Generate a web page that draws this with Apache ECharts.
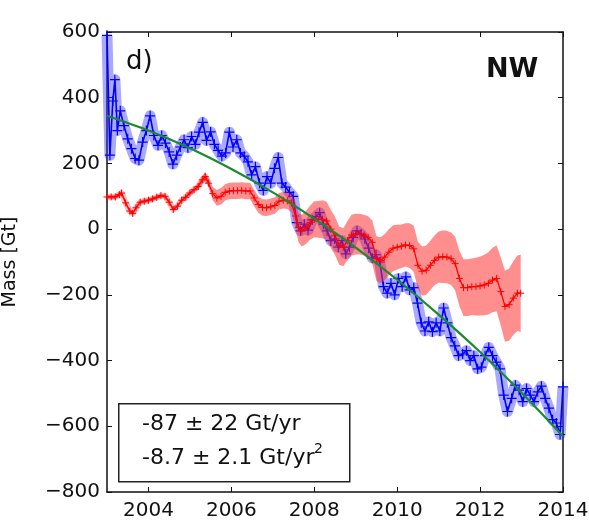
<!DOCTYPE html>
<html>
<head>
<meta charset="utf-8">
<script src="https://cdn.jsdelivr.net/npm/echarts@6/dist/echarts.min.js"></script>
<style>html,body{margin:0;padding:0;background:#fff}#c{width:589px;height:526px}</style>
</head>
<body>
<div id="c"></div>
<script>
const xTicks = [2004, 2006, 2008, 2010, 2012, 2014];
const yTicks = [-800, -600, -400, -200, 0, 200, 400, 600];
const panelLabel = 'd)';
const regionLabel = 'NW';
const fitLine1 = '-87 \u00b1 22 Gt/yr';
const fitLine2 = '-8.7 \u00b1 2.1 Gt/yr';
const fitSup = '2';
const yName = 'Mass [Gt]';

const blueYears = [2003.00,2003.07,2003.14,2003.19,2003.25,2003.32,2003.41,2003.50,2003.59,2003.68,2003.77,2003.86,2003.95,
2004.04,2004.13,2004.23,2004.32,2004.41,2004.50,2004.59,2004.68,2004.77,2004.86,2004.95,
2005.04,2005.13,2005.22,2005.31,2005.40,2005.50,2005.59,2005.68,2005.77,2005.86,2005.95,
2006.04,2006.13,2006.22,2006.31,2006.40,2006.49,2006.58,2006.68,2006.77,2006.86,2006.95,
2007.04,2007.13,2007.22,2007.31,2007.40,2007.49,2007.58,2007.67,2007.76,2007.85,2007.95,
2008.04,2008.13,2008.22,2008.31,2008.40,2008.49,2008.58,2008.67,2008.76,2008.85,2008.94,
2009.03,2009.13,2009.22,2009.31,2009.40,2009.49,2009.58,2009.67,2009.76,2009.85,2009.94,
2010.03,2010.12,2010.21,2010.30,2010.40,2010.49,2010.58,2010.67,2010.76,2010.85,2010.94,
2011.03,2011.12,2011.21,2011.30,2011.39,2011.48,2011.58,2011.67,2011.76,2011.85,2011.94,
2012.03,2012.12,2012.21,2012.30,2012.39,2012.48,2012.57,2012.66,2012.76,2012.85,2012.94,
2013.03,2013.12,2013.21,2013.30,2013.39,2013.48,2013.57,2013.66,2013.75,2013.84,2013.93,2014.00];
const blueMass = [590,225,390,455,300,360,315,275,245,215,210,265,300,
345,285,255,285,262,235,198,225,250,272,248,
282,258,295,325,270,296,258,240,222,232,295,
250,272,232,222,205,165,190,140,118,160,140,
185,218,140,128,112,100,20,-5,15,-3,28,
38,50,15,-5,-35,-30,-55,-35,-75,-55,-25,
-5,-15,-30,-58,-88,-78,-100,-175,-195,-165,-200,
-150,-175,-145,-185,-178,-225,-285,-310,-282,-312,-285,
-310,-240,-285,-330,-355,-385,-380,-370,-400,-385,-425,
-420,-385,-360,-385,-405,-425,-505,-555,-515,-475,-490,
-525,-485,-505,-525,-495,-478,-515,-545,-580,-590,-625,-480];

const redYears = [2003.0,2003.1,2003.2,2003.3,2003.35,2003.45,2003.55,2003.62,2003.7,2003.8,2003.9,
2004.0,2004.1,2004.2,2004.3,2004.4,2004.5,2004.6,2004.7,2004.8,2004.9,
2005.0,2005.1,2005.2,2005.3,2005.37,2005.45,2005.55,2005.65,2005.75,2005.85,2005.95,
2006.05,2006.15,2006.25,2006.35,2006.45,2006.55,2006.65,2006.75,2006.85,2006.95,
2007.05,2007.15,2007.25,2007.35,2007.45,2007.55,2007.62,2007.7,2007.8,2007.9,
2008.0,2008.1,2008.2,2008.3,2008.4,2008.5,2008.6,2008.7,2008.8,2008.9,
2009.0,2009.1,2009.2,2009.3,2009.4,2009.5,2009.6,2009.7,2009.8,2009.9,
2010.0,2010.1,2010.2,2010.3,2010.4,2010.5,2010.6,2010.7,2010.8,2010.9,
2011.0,2011.1,2011.2,2011.3,2011.4,2011.5,2011.6,2011.7,2011.8,2011.9,
2012.0,2012.1,2012.2,2012.3,2012.4,2012.5,2012.6,2012.7,2012.8,2012.9,2012.98];
const redMass = [98,98,98,105,110,80,55,48,65,82,85,
88,92,97,102,100,82,60,70,88,97,
110,120,130,150,160,140,108,95,100,112,116,
117,117,118,116,116,95,75,66,65,68,
72,85,88,86,80,40,5,-5,5,20,
30,30,30,25,0,-20,-50,-55,-35,-18,
-15,-15,-18,-25,-40,-90,-95,-85,-70,-58,
-55,-52,-48,-50,-60,-110,-128,-125,-110,-95,
-85,-84,-85,-90,-105,-150,-178,-178,-175,-175,
-173,-170,-165,-155,-150,-190,-235,-230,-210,-195,-195];
const redErr = [6,6,6,6,6,6,6,6,6,6,6,
6,6,6,6,6,6,6,6,6,6,
6,6,10,12,14,14,20,24,25,25,25,
25,25,25,25,25,25,25,25,25,25,
25,25,25,25,28,40,45,48,50,52,
55,56,58,58,58,58,58,58,60,62,
62,62,62,64,66,68,70,70,70,70,
68,66,66,68,70,72,75,75,75,76,
78,80,80,80,82,84,86,86,86,88,
90,92,95,98,100,104,108,110,112,115,118];
const RED_HALO_END = 27;

const greenYears = [2003,2004,2005,2006,2007,2008,2009,2010,2011,2012,2013,2014];
const greenMass = [345,300,246,183,112,32,-56,-154,-260,-374,-498,-630];

const pairs = (xs, ys) => xs.map((x, i) => [x, ys[i]]);

function bandSeries(xs, ys, e, fill, z) {
  return {
    type: 'custom', silent: true, z: z, clip: true,
    xAxisIndex: 0, yAxisIndex: 0,
    encode: { x: 0, y: 1 },
    data: [[2008.5, -100]],
    renderItem: function (params, api) {
      const pts = [];
      for (let i = 0; i < xs.length; i++) pts.push(api.coord([xs[i], ys[i] + e[i]]));
      for (let i = xs.length - 1; i >= 0; i--) pts.push(api.coord([xs[i], ys[i] - e[i]]));
      return { type: 'polygon', shape: { points: pts }, style: { fill: fill } };
    }
  };
}

const plus = 'path://M0,5L10,5M5,0L5,10';
const font = 'DejaVu Sans';
const fmtMinus = v => String(v).replace('-', '\u2212');

const chart = echarts.init(document.getElementById('c'), null, { renderer: 'canvas' });
chart.setOption({
  animation: false,
  backgroundColor: '#ffffff',
  grid: { left: 107, right: 26, top: 32, bottom: 34, containLabel: false, outerBoundsMode: 'none' },
  xAxis: [
    { type: 'value', position: 'bottom', min: 2003, max: 2014,
      axisLine: { show: true, onZero: false, lineStyle: { color: '#111', width: 1.5 } },
      axisTick: { show: true, inside: true, length: 5, customValues: xTicks, lineStyle: { color: '#111' } },
      axisLabel: { customValues: xTicks, formatter: v => String(v), fontFamily: font, fontSize: 20, color: '#111', margin: 9 },
      splitLine: { show: false } },
    { type: 'value', position: 'top', min: 2003, max: 2014,
      axisLine: { show: true, onZero: false, lineStyle: { color: '#111', width: 1.5 } },
      axisTick: { show: true, inside: true, length: 5, customValues: xTicks, lineStyle: { color: '#111' } },
      axisLabel: { show: false },
      splitLine: { show: false } }
  ],
  yAxis: [
    { type: 'value', position: 'left', min: -800, max: 600, interval: 200,
      name: yName, nameLocation: 'middle', nameGap: 87, nameRotate: 90,
      nameTextStyle: { fontFamily: font, fontSize: 19, color: '#111' },
      axisLine: { show: true, onZero: false, lineStyle: { color: '#111', width: 1.5 } },
      axisTick: { show: true, inside: true, length: 5, lineStyle: { color: '#111' } },
      axisLabel: { formatter: fmtMinus, fontFamily: font, fontSize: 20, color: '#111', margin: 7 },
      splitLine: { show: false } },
    { type: 'value', position: 'right', min: -800, max: 600, interval: 200,
      axisLine: { show: true, onZero: false, lineStyle: { color: '#111', width: 1.5 } },
      axisTick: { show: true, inside: true, length: 5, lineStyle: { color: '#111' } },
      axisLabel: { show: false },
      splitLine: { show: false } }
  ],
  series: [
    { type: 'line', z: 1, data: pairs(blueYears, blueMass), xAxisIndex: 0, yAxisIndex: 0,
      symbol: 'none', silent: true,
      lineStyle: { color: 'rgba(50,50,255,0.42)', width: 11, join: 'round', cap: 'butt' } },
    { type: 'line', z: 2, data: pairs(blueYears, blueMass), xAxisIndex: 0, yAxisIndex: 0,
      symbol: plus, symbolSize: 10, showAllSymbol: true, silent: true,
      lineStyle: { color: '#0000ff', width: 1.6 },
      itemStyle: { color: '#0000ff', borderColor: '#0000ff', borderWidth: 1.2 } },
    bandSeries(redYears, redMass, redErr, 'rgba(255,40,40,0.52)', 3),
    { type: 'line', z: 3, data: pairs(redYears.slice(0, RED_HALO_END), redMass.slice(0, RED_HALO_END)), xAxisIndex: 0, yAxisIndex: 0,
      symbol: 'none', silent: true,
      lineStyle: { color: 'rgba(255,40,40,0.3)', width: 6, join: 'round', cap: 'butt' } },
    { type: 'line', z: 4, data: pairs(redYears, redMass), xAxisIndex: 0, yAxisIndex: 0,
      symbol: plus, symbolSize: 7, showAllSymbol: true, silent: true,
      lineStyle: { color: '#ff0000', width: 1.3 },
      itemStyle: { color: '#ff0000', borderColor: '#ff0000', borderWidth: 1 } },
    { type: 'line', z: 5, data: pairs(greenYears, greenMass), xAxisIndex: 0, yAxisIndex: 0,
      smooth: 0.3, symbol: 'none', silent: true,
      lineStyle: { color: '#1a8a2e', width: 2.2 } }
  ],
  graphic: [
    { type: 'text', left: 126, top: 49, z: 10,
      style: { text: panelLabel, font: '26px "DejaVu Sans"', fill: '#111' } },
    { type: 'text', left: 486, top: 56, z: 10,
      style: { text: regionLabel, font: 'bold 27px "DejaVu Sans"', fill: '#111' } },
    { type: 'rect', left: 118, top: 403, z: 10,
      shape: { width: 231, height: 78 },
      style: { fill: '#fff', stroke: '#222', lineWidth: 1.5 } },
    { type: 'text', left: 142, top: 413, z: 11,
      style: { text: fitLine1, font: '22px "DejaVu Sans"', fill: '#111' } },
    { type: 'text', left: 142, top: 447, z: 11,
      style: { text: fitLine2, font: '22px "DejaVu Sans"', fill: '#111' } },
    { type: 'text', left: 314, top: 442, z: 11,
      style: { text: fitSup, font: '14px "DejaVu Sans"', fill: '#111' } }
  ]
});
</script>
</body>
</html>
